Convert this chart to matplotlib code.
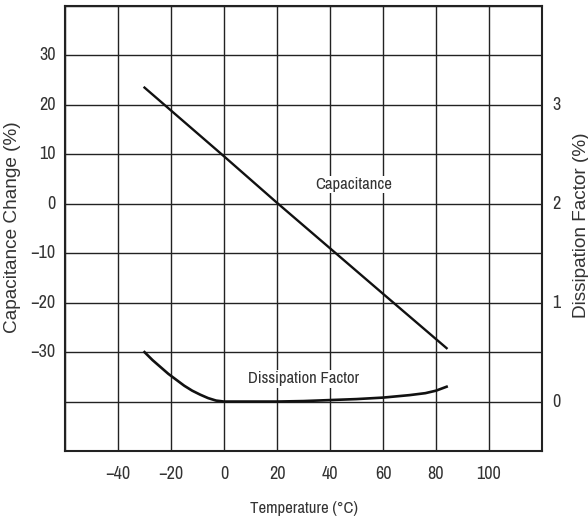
import matplotlib
matplotlib.use("Agg")
import matplotlib.pyplot as plt

# capacitance change (%) vs temperature
cap_temp = [-30, 0, 20, 60, 84]
cap_change = [23.5, 9.6, 0.2, -18.2, -29.2]

# dissipation factor (%) vs temperature
df_temp = [-30, -27, -24, -21, -18, -15, -12, -9, -6, -3, 0, 10, 20, 30,
           40, 50, 60, 70, 76, 80, 84]
df_value = [0.5, 0.42, 0.35, 0.28, 0.22, 0.16, 0.11, 0.07, 0.035, 0.01, 0.0,
            0.0, 0.0, 0.005, 0.015, 0.025, 0.04, 0.065, 0.085, 0.11, 0.15]

x_ticks = [-40, -20, 0, 20, 40, 60, 80, 100]
left_ticks = [-30, -20, -10, 0, 10, 20, 30]
right_ticks = [0, 1, 2, 3]

narrow = ["Archivo Narrow", "Liberation Sans", "DejaVu Sans"]
regular = ["Liberation Sans", "DejaVu Sans"]
txt = "#333333"

fig = plt.figure(figsize=(5.88, 5.23), dpi=100)
ax = fig.add_axes([65 / 588, 1 - 451 / 523, 477 / 588, 445 / 523])

ax.set_xlim(-60, 120)
ax.set_ylim(-50, 40)
ax.set_xticks(range(-60, 121, 20))
ax.set_yticks(range(-50, 41, 10))
ax.grid(True, color="#222222", linewidth=1.0)
ax.tick_params(length=0, labelleft=False, labelbottom=False)
for s in ax.spines.values():
    s.set_linewidth(1.5)
    s.set_color("#222222")

ax.plot(cap_temp, cap_change, color="#111111", linewidth=1.7)

ax2 = ax.twinx()
ax2.set_ylim(-0.5, 4)
ax2.set_yticks([])
ax2.plot(df_temp, df_value, color="#111111", linewidth=1.9)
for s in ax2.spines.values():
    s.set_visible(False)

# tick labels drawn as text so grid lines stay everywhere
for t in x_ticks:
    ax.text(t, -53, str(t).replace("-", "\u2212"), ha="center", va="top",
            fontsize=13, family=narrow, color=txt, clip_on=False)
for v in left_ticks:
    ax.text(-63.5, v, str(v).replace("-", "\u2212"), ha="right", va="center",
            fontsize=13, family=narrow, color=txt, clip_on=False)
for v in right_ticks:
    ax2.text(124, v, str(v), ha="left", va="center",
             fontsize=13, family=narrow, color=txt, clip_on=False)

ax.text(48.8, 3.9, "Capacitance", ha="center", va="center", fontsize=12,
        family=narrow, color=txt,
        bbox=dict(facecolor="white", edgecolor="none", pad=1))
ax.text(30.1, -35.4, "Dissipation Factor", ha="center", va="center",
        fontsize=12, family=narrow, color=txt,
        bbox=dict(facecolor="white", edgecolor="none", pad=1))

fig.text(13 / 588, 1 - 227 / 523, "Capacitance Change (%)", rotation=90,
         ha="center", va="center", fontsize=13.7, family=regular, color=txt)
fig.text(581 / 588, 1 - 225 / 523, "Dissipation Factor (%)", rotation=90,
         ha="center", va="center", fontsize=13.7, family=regular, color=txt)
fig.text(304 / 588, 1 - 508 / 523, "Temperature (\u00b0C)", ha="center",
         va="center", fontsize=12, family=narrow, color=txt)

fig.savefig("out.png", dpi=100)
